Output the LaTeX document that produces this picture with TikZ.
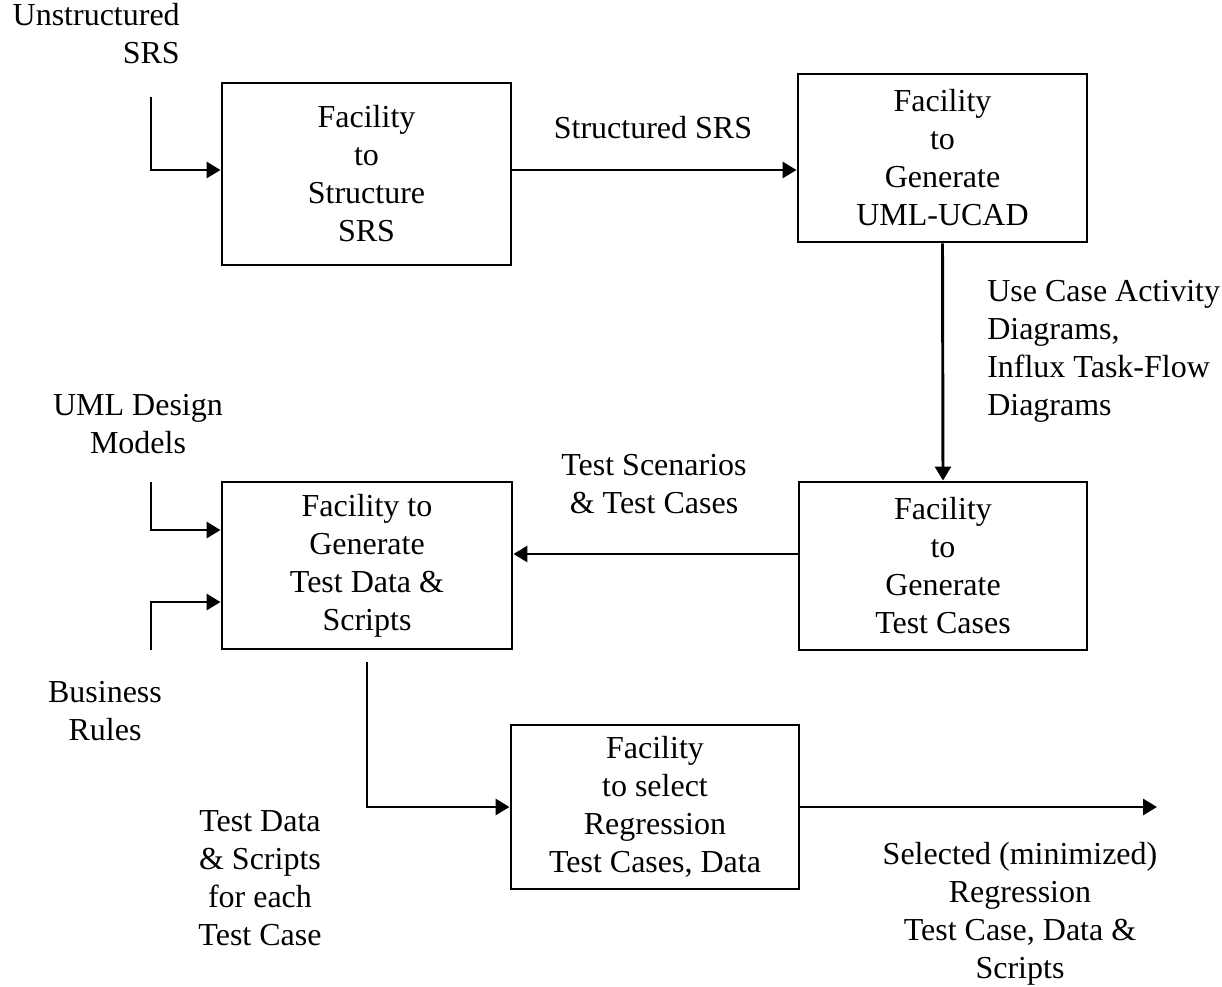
\documentclass[tikz,border=0pt]{standalone}
\usepackage{fontspec}
\setmainfont{Liberation Serif}
\usetikzlibrary{arrows.meta}
\begin{document}
\begin{tikzpicture}[x=0.75pt,y=-0.75pt,
  every node/.style={font=\fontsize{24}{28.5}\selectfont},
  box/.style={draw,line width=2.2pt,inner sep=0pt,align=center},
  lbl/.style={inner sep=0pt,align=center},
  arr/.style={line width=2.2pt,-{Triangle[length=10.5pt,width=12pt]}}]
\useasboundingbox (0,0) rectangle (1222,987);

% processing facilities
\node[box,minimum width=289*0.75pt,minimum height=182*0.75pt] (box1) at (366.5,174)
  {Facility\\to\\Structure\\SRS};
\node[box,minimum width=289*0.75pt,minimum height=168*0.75pt] (box2) at (942.5,158)
  {Facility\\to\\Generate\\UML-UCAD};
\node[box,minimum width=288*0.75pt,minimum height=168*0.75pt] (box3) at (943,566)
  {Facility\\to\\Generate\\Test Cases};
\node[box,minimum width=290*0.75pt,minimum height=167*0.75pt] (box4) at (367,565.5)
  {Facility to\\Generate\\Test Data \&\\Scripts};
\node[box,minimum width=288*0.75pt,minimum height=164*0.75pt] (box5) at (655,807)
  {Facility\\to select\\Regression\\Test Cases, Data};

% free ends of the input and output lines
\coordinate (srsIn) at (151,97);
\coordinate (umlIn) at (151,482);
\coordinate (bizIn) at (151,650);
\coordinate (dataOut) at (367,662);
\coordinate (selOut) at (1157,807);

% labels
\node[lbl,align=right,anchor=north east] (lUnstr) at (180,3) {Unstructured\\SRS};
\node[lbl] (lStruct) at (653,128) {Structured SRS};
\node[lbl,align=left,anchor=north west] (lUse) at (987,280)
  {Use Case Activity\\Diagrams,\\Influx Task-Flow\\Diagrams};
\node[lbl] (lScen) at (654,484) {Test Scenarios\\\& Test Cases};
\node[lbl] (lUml) at (138,424) {UML Design\\Models};
\node[lbl] (lBiz) at (105,711) {Business\\Rules};
\node[lbl] (lData) at (260,878) {Test Data\\\& Scripts\\for each\\Test Case};
\node[lbl] (lSel) at (1020,914) {Selected (minimized)\\Regression\\Test Case, Data \&\\Scripts};

% connectors
\draw[arr] (srsIn) |- ([yshift=3pt]box1.west);
\coordinate (a1) at ([yshift=3pt]box1.east);
\draw[arr] (a1) -- (a1 -| box2.west);
\draw[arr] (box2.south) -- (box3.north);
\coordinate (a3) at ([yshift=9pt]box3.west);
\draw[arr] (a3) -- (a3 -| box4.east);
\draw[arr] (umlIn) |- ([yshift=26.6pt]box4.west);
\draw[arr] (bizIn) |- ([yshift=-27.4pt]box4.west);
\draw[arr] (dataOut) |- (box5.west);
\draw[arr] (box5.east) -- (selOut);
\end{tikzpicture}
\end{document}
